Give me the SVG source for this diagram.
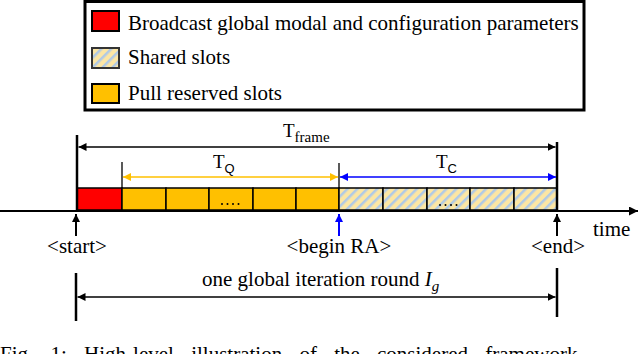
<svg xmlns="http://www.w3.org/2000/svg" width="640" height="354" viewBox="0 0 640 354">
<defs>
<style>
text{font-family:"Liberation Serif","Times New Roman",serif;fill:#000}
.t21{font-size:21px}
.sub{font-size:15px}
.subs{font-family:"Liberation Sans",Arial,sans-serif;font-size:13px}
.slot{stroke:#000;stroke-width:1.5}
.red{fill:#FF0000}
.org{fill:#FFC000}
.shr{fill:url(#hatch)}
.bar{stroke:#000;stroke-width:2.5}
.tick{stroke:#000;stroke-width:1.3}
.blk{stroke:#000;stroke-width:1.5;fill:none}
</style>
<pattern id="hatch" patternUnits="userSpaceOnUse" width="7" height="7" patternTransform="rotate(45)">
<rect width="7" height="7" fill="#FCE6A4"/>
<rect width="2.5" height="7" fill="#AFC9E6"/>
</pattern>
<marker id="ab" viewBox="0 0 10 10" refX="10" refY="5" markerWidth="8" markerHeight="8" markerUnits="userSpaceOnUse" orient="auto-start-reverse"><path d="M0,0 L10,5 L0,10 z" fill="#000"/></marker>
<marker id="ao" viewBox="0 0 10 10" refX="10" refY="5" markerWidth="8" markerHeight="8" markerUnits="userSpaceOnUse" orient="auto-start-reverse"><path d="M0,0 L10,5 L0,10 z" fill="#FFC000"/></marker>
<marker id="au" viewBox="0 0 10 10" refX="10" refY="5" markerWidth="8" markerHeight="8" markerUnits="userSpaceOnUse" orient="auto-start-reverse"><path d="M0,0 L10,5 L0,10 z" fill="#0000FF"/></marker>
<marker id="ax" viewBox="0 0 10 10" refX="10" refY="5" markerWidth="11" markerHeight="9" markerUnits="userSpaceOnUse" orient="auto"><path d="M0,0 L10,5 L0,10 z" fill="#000"/></marker>
</defs>

<g id="legend">
<rect x="85" y="1.5" width="499" height="108.5" fill="#fff" stroke="#000" stroke-width="3"/>
<rect x="92" y="11" width="27" height="20" class="red" stroke="#000" stroke-width="2"/>
<rect x="92" y="48" width="27" height="20" class="shr" stroke="#333" stroke-width="2"/>
<rect x="92" y="84" width="27" height="19" class="org" stroke="#000" stroke-width="2"/>
<text x="128" y="30" class="t21">Broadcast global modal and configuration parameters</text>
<text x="128" y="64" class="t21">Shared slots</text>
<text x="128" y="100" class="t21">Pull reserved slots</text>
</g>

<g id="slots">
<rect x="77" y="188" width="45" height="22" class="slot red"/>
<rect x="122" y="188" width="44" height="22" class="slot org"/>
<rect x="166" y="188" width="43" height="22" class="slot org"/>
<rect x="209" y="188" width="44" height="22" class="slot org"/>
<rect x="253" y="188" width="43" height="22" class="slot org"/>
<rect x="296" y="188" width="43" height="22" class="slot org"/>
<rect x="339" y="188" width="44" height="22" class="slot shr"/>
<rect x="383" y="188" width="44" height="22" class="slot shr"/>
<rect x="427" y="188" width="43" height="22" class="slot shr"/>
<rect x="470" y="188" width="44" height="22" class="slot shr"/>
<rect x="514" y="188" width="43" height="22" class="slot shr"/>
<g fill="#000">
<circle cx="222" cy="204" r="1"/><circle cx="227.5" cy="204" r="1"/><circle cx="233" cy="204" r="1"/><circle cx="238.5" cy="204" r="1"/>
<circle cx="440" cy="205" r="1"/><circle cx="445.5" cy="205" r="1"/><circle cx="451" cy="205" r="1"/><circle cx="456.5" cy="205" r="1"/>
</g>
</g>

<g id="connectors">
<line x1="0" y1="211" x2="638" y2="211" stroke="#000" stroke-width="2" marker-end="url(#ax)"/>
<line x1="77" y1="135" x2="77" y2="211" class="bar"/>
<line x1="557" y1="142" x2="557" y2="211" class="bar"/>
<line x1="122" y1="162" x2="122" y2="188" class="tick"/>
<line x1="339" y1="163" x2="339" y2="188" class="tick"/>
<line x1="78.5" y1="147" x2="555.5" y2="147" class="blk" marker-start="url(#ab)" marker-end="url(#ab)"/>
<line x1="123" y1="177" x2="338" y2="177" stroke="#FFC000" stroke-width="1.5" marker-start="url(#ao)" marker-end="url(#ao)"/>
<line x1="340" y1="177" x2="556" y2="177" stroke="#0000FF" stroke-width="1.5" marker-start="url(#au)" marker-end="url(#au)"/>
<line x1="76" y1="236" x2="76" y2="214" stroke="#000" stroke-width="2" marker-end="url(#ab)"/>
<line x1="339" y1="236" x2="339" y2="214" stroke="#0000FF" stroke-width="2" marker-end="url(#au)"/>
<line x1="557" y1="236" x2="557" y2="214" stroke="#000" stroke-width="2" marker-end="url(#ab)"/>
<line x1="76" y1="273" x2="76" y2="321" class="bar"/>
<line x1="557" y1="268" x2="557" y2="317" class="bar"/>
<line x1="77.5" y1="297" x2="555.5" y2="297" class="blk" marker-start="url(#ab)" marker-end="url(#ab)"/>
</g>

<g id="labels">
<text x="283" y="137" style="font-size:19px">T<tspan class="sub" dy="5">frame</tspan></text>
<text x="213" y="168" style="font-size:19px">T<tspan class="subs" dy="5">Q</tspan></text>
<text x="436" y="168" style="font-size:19px">T<tspan class="subs" dy="5">C</tspan></text>
<text x="77" y="253" class="t21" text-anchor="middle">&lt;start&gt;</text>
<text x="339" y="253" class="t21" text-anchor="middle">&lt;begin RA&gt;</text>
<text x="558" y="253" class="t21" text-anchor="middle">&lt;end&gt;</text>
<text x="593" y="236" class="t21">time</text>
<text x="202" y="286" class="t21">one global iteration round <tspan font-style="italic">I</tspan><tspan font-style="italic" class="sub" dy="5">g</tspan></text>
<text x="0" y="361" style="font-size:21px;word-spacing:12px">Fig. 1: High-level illustration of the considered framework</text>
</g>
</svg>
